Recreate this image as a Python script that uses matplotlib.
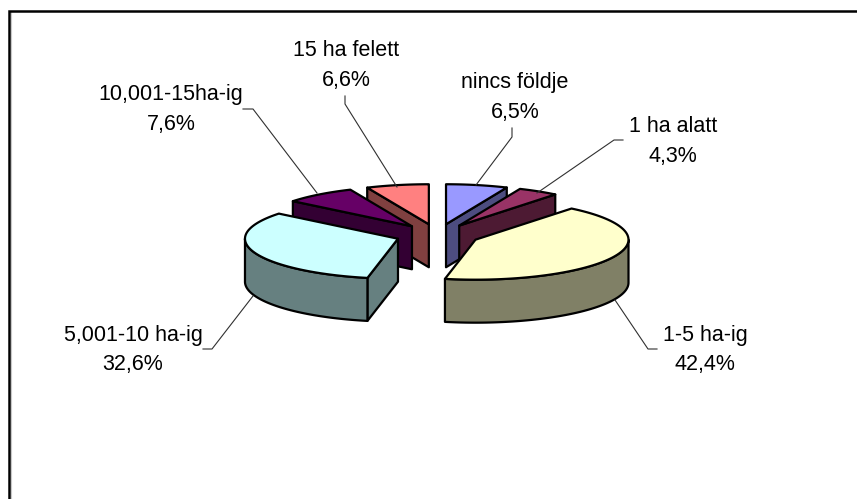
import numpy as np
import matplotlib
matplotlib.use('Agg')
import matplotlib.pyplot as plt
from matplotlib.patches import Polygon

plt.rcParams['font.family'] = ['Liberation Sans', 'DejaVu Sans']

categories = ['nincs földje', '1 ha alatt', '1-5 ha-ig', '5,001-10 ha-ig',
              '10,001-15ha-ig', '15 ha felett']
shares = [6.5, 4.3, 42.4, 32.6, 7.6, 6.6]

top_colors = ['#9999FF', '#993366', '#FFFFCC', '#CCFFFF', '#660066', '#FF8080']
side_colors = ['#4D4D80', '#4D1A33', '#808066', '#668080', '#330033', '#804040']

# label centres and leader lines, in figure pixels
label_pos = [(515, 97.5), (673, 141.5), (705, 350), (133, 350), (171, 109.5), (346, 65.5)]
leaders = [
    [(512, 128), (512, 137), (476, 185)],
    [(623, 140), (614, 140), (537, 193)],
    [(657, 349), (648, 349), (615, 300)],
    [(203, 349), (212, 349), (253, 296)],
    [(243, 109), (253, 109), (317, 193)],
    [(345, 96), (345, 104), (397, 187)],
]

# pie geometry
cx, cy = 437.5, 235
rx, ry = 153, 40
depth = 43
explode = 42
draw_order = [5, 4, 0, 1, 3, 2]  # back to front


def rim(center, t0, t1, drop=0):
    t = np.radians(np.linspace(t0, t1, 80))
    return np.column_stack([center[0] + rx * np.sin(t),
                            center[1] - ry * np.cos(t) + drop])


def add_poly(ax, pts, color):
    ax.add_patch(Polygon(pts, closed=True, facecolor=color, edgecolor='black',
                         linewidth=1.6, joinstyle='round'))


fig = plt.figure(figsize=(8.57, 4.99), dpi=100)
ax = fig.add_axes([0, 0, 1, 1])
ax.set_xlim(0, 857)
ax.set_ylim(499, 0)
ax.axis('off')

# chart frame, only top and left are on the picture
ax.plot([10.7, 10.7], [12, 499], color='#c8c8c8', lw=0.8)
ax.plot([9, 9, 857], [499, 11, 11], color='black', lw=1.8, solid_joinstyle='miter')

edges = np.concatenate([[0], np.cumsum(shares)]) / np.sum(shares) * 360

for i in draw_order:
    a0, a1 = edges[i], edges[i + 1]
    mid = np.radians((a0 + a1) / 2)
    center = (cx + explode * np.sin(mid), cy - explode * np.cos(mid) * ry / rx)
    apex = np.array([center])

    # cut faces that look towards the viewer
    for angle, normal in ((a0, a0 - 90), (a1, a1 + 90)):
        if -np.cos(np.radians(normal)) > 1e-6:
            outer = rim(center, angle, angle)[:1]
            drop = np.array([[0, depth]])
            add_poly(ax, np.vstack([apex, outer, outer + drop, apex + drop]),
                     side_colors[i])

    # outer wall, front half only
    s0, s1 = max(a0, 90), min(a1, 270)
    if s1 > s0:
        add_poly(ax, np.vstack([rim(center, s0, s1),
                                rim(center, s0, s1, depth)[::-1]]), side_colors[i])

    add_poly(ax, np.vstack([apex, rim(center, a0, a1)]), top_colors[i])

for pts in leaders:
    xs, ys = zip(*pts)
    ax.plot(xs, ys, color='#303030', lw=0.8)

for name, val, (x, y) in zip(categories, shares, label_pos):
    txt = f'{val:.1f}%'.replace('.', ',')
    ax.text(x, y, f'{name}\n{txt}', ha='center', va='center', fontsize=15.5,
            linespacing=1.56, color='black')

fig.savefig('out.png', dpi=100)
